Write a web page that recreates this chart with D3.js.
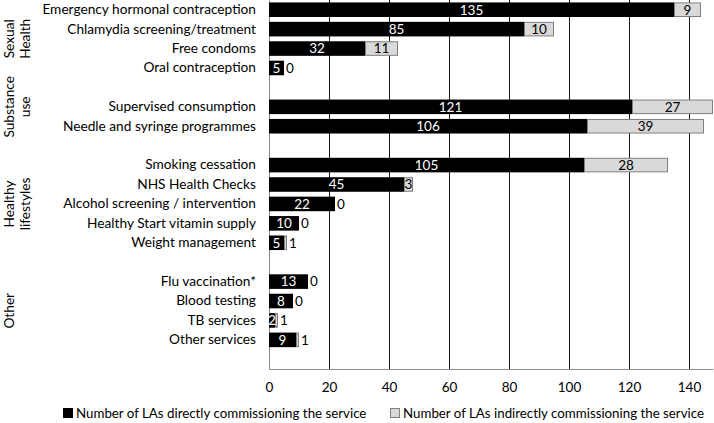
<!DOCTYPE html>
<html>
<head>
<meta charset="utf-8">
<script src="https://cdnjs.cloudflare.com/ajax/libs/d3/7.8.5/d3.min.js"></script>
<style>
  body { margin: 0; background: #fff; }
  svg { display: block; font-family: Lato, "Open Sans", sans-serif; }
</style>
</head>
<body>
<script>
// rows of the chart, "" = empty spacer row between groups
var services = [
  "Emergency hormonal contraception",
  "Chlamydia screening/treatment",
  "Free condoms",
  "Oral contraception",
  "",
  "Supervised consumption",
  "Needle and syringe programmes",
  "",
  "Smoking cessation",
  "NHS Health Checks",
  "Alcohol screening / intervention",
  "Healthy Start vitamin supply",
  "Weight management",
  "",
  "Flu vaccination*",
  "Blood testing",
  "TB services",
  "Other services",
  ""
];
var direct = [135, 85, 32, 5, null, 121, 106, null, 105, 45, 22, 10, 5, null, 13, 8, 2, 9, null];
var indirect = [9, 10, 11, 0, null, 27, 39, null, 28, 3, 0, 0, 1, null, 0, 0, 1, 1, null];

var groupNames = [["Sexual", "Health"], ["Substance", "use"], ["Healthy", "lifestyles"], ["Other"]];
var groupRows = [[0, 3], [4, 6], [8, 12], [14, 17]];

var xTicks = [0, 20, 40, 60, 80, 100, 120, 140];
var legendLabels = [
  "Number of LAs directly commissioning the service",
  "Number of LAs indirectly commissioning the service"
];

var margin = { top: 0, right: 1, bottom: 54, left: 269 },
  w = 714 - margin.left - margin.right,
  h = 423 - margin.top - margin.bottom;

var root = d3
  .select("body")
  .append("svg")
  .attr("width", 714)
  .attr("height", 423);

var svg = root
  .append("g")
  .attr("transform", "translate(" + margin.left + "," + margin.top + ")");

var x = d3.scaleLinear().domain([0, 148]).range([0, w]);
var y = d3
  .scaleBand()
  .domain(d3.range(services.length))
  .range([0, h])
  .paddingInner(0.25)
  .paddingOuter(0.125);

// gridlines
svg
  .selectAll("line.grid")
  .data(xTicks.slice(1))
  .enter()
  .append("line")
  .attr("class", "grid")
  .attr("x1", function (d) { return Math.round(x(d)) + 0.5; })
  .attr("x2", function (d) { return Math.round(x(d)) + 0.5; })
  .attr("y1", 0)
  .attr("y2", h)
  .attr("stroke", "#1a1a1a")
  .attr("stroke-width", 1);

// x axis
var xAxis = d3.axisBottom(x).tickValues(xTicks).tickSize(0).tickPadding(13);
var gx = svg
  .append("g")
  .attr("transform", "translate(0," + h + ")")
  .call(xAxis);
gx.select(".domain").attr("stroke", "#8c8c8c");
gx.selectAll("text").attr("font-size", "13.5px").attr("fill", "#000").attr("font-family", "Lato");

// y axis (service names)
var yAxis = d3
  .axisLeft(y)
  .tickSize(0)
  .tickPadding(13)
  .tickFormat(function (i) { return services[i]; });
var gy = svg.append("g").call(yAxis);
gy.select(".domain").attr("stroke", "#8c8c8c");
gy.selectAll("text").attr("font-size", "13.7px").attr("fill", "#000").attr("font-family", "Lato");

var rows = d3.range(services.length).filter(function (i) { return direct[i] !== null; });

// direct bars
svg
  .selectAll("rect.direct")
  .data(rows)
  .enter()
  .append("rect")
  .attr("class", "direct")
  .attr("x", x(0))
  .attr("y", function (i) { return y(i); })
  .attr("width", function (i) { return x(direct[i]) - x(0); })
  .attr("height", y.bandwidth())
  .attr("fill", "#000");

// indirect bars
svg
  .selectAll("rect.indirect")
  .data(rows.filter(function (i) { return indirect[i] > 0; }))
  .enter()
  .append("rect")
  .attr("class", "indirect")
  .attr("x", function (i) { return x(direct[i]) + 0.5; })
  .attr("y", function (i) { return y(i) + 0.5; })
  .attr("width", function (i) { return x(direct[i] + indirect[i]) - x(direct[i]) - 1; })
  .attr("height", y.bandwidth() - 1)
  .attr("fill", "#d9d9d9")
  .attr("stroke", "#7f7f7f")
  .attr("stroke-width", 1);

// labels
svg
  .selectAll("text.dlab")
  .data(rows)
  .enter()
  .append("text")
  .attr("class", "dlab")
  .attr("x", function (i) { return x(direct[i] / 2); })
  .attr("y", function (i) { return y(i) + y.bandwidth() / 2; })
  .attr("dy", "0.36em")
  .attr("text-anchor", "middle")
  .attr("font-size", "13.5px")
  .attr("fill", "#fff")
  .text(function (i) { return direct[i]; });

svg
  .selectAll("text.ilab")
  .data(rows)
  .enter()
  .append("text")
  .attr("class", "ilab")
  .attr("x", function (i) {
    if (indirect[i] >= 2) return x(direct[i] + indirect[i] / 2);
    return x(direct[i] + indirect[i]) + 2;
  })
  .attr("y", function (i) { return y(i) + y.bandwidth() / 2; })
  .attr("dy", "0.36em")
  .attr("text-anchor", function (i) { return indirect[i] >= 2 ? "middle" : "start"; })
  .attr("font-size", "13.5px")
  .attr("fill", "#000")
  .text(function (i) { return indirect[i]; });

// group labels, rotated
var groups = root
  .selectAll("g.group")
  .data(groupNames)
  .enter()
  .append("g")
  .attr("class", "group")
  .attr("transform", function (d, k) {
    var r = groupRows[k];
    var cy = margin.top + (y(r[0]) + y(r[1]) + y.bandwidth()) / 2;
    return "translate(0," + cy + ") rotate(-90)";
  });

groups
  .selectAll("text")
  .data(function (d) { return d; })
  .enter()
  .append("text")
  .attr("x", 0)
  .attr("y", function (d, j) { return 9 + j * 16; })
  .attr("dy", "0.35em")
  .attr("text-anchor", "middle")
  .attr("font-size", "13.7px")
  .text(function (d) { return d; });

// legend
var legendX = [63, 390];
var legendColors = ["#000", "#d9d9d9"];
var legend = root
  .selectAll("g.legend")
  .data(legendLabels)
  .enter()
  .append("g")
  .attr("class", "legend")
  .attr("transform", function (d, k) { return "translate(" + legendX[k] + ",413)"; });

legend
  .append("rect")
  .attr("x", 0.5)
  .attr("y", -4.5)
  .attr("width", 9)
  .attr("height", 9)
  .attr("fill", function (d, k) { return legendColors[k]; })
  .attr("stroke", function (d, k) { return k ? "#7f7f7f" : "#000"; });

legend
  .append("text")
  .attr("x", 13)
  .attr("dy", "0.35em")
  .attr("font-size", "13.3px")
  .text(function (d) { return d; });
</script>
</body>
</html>
